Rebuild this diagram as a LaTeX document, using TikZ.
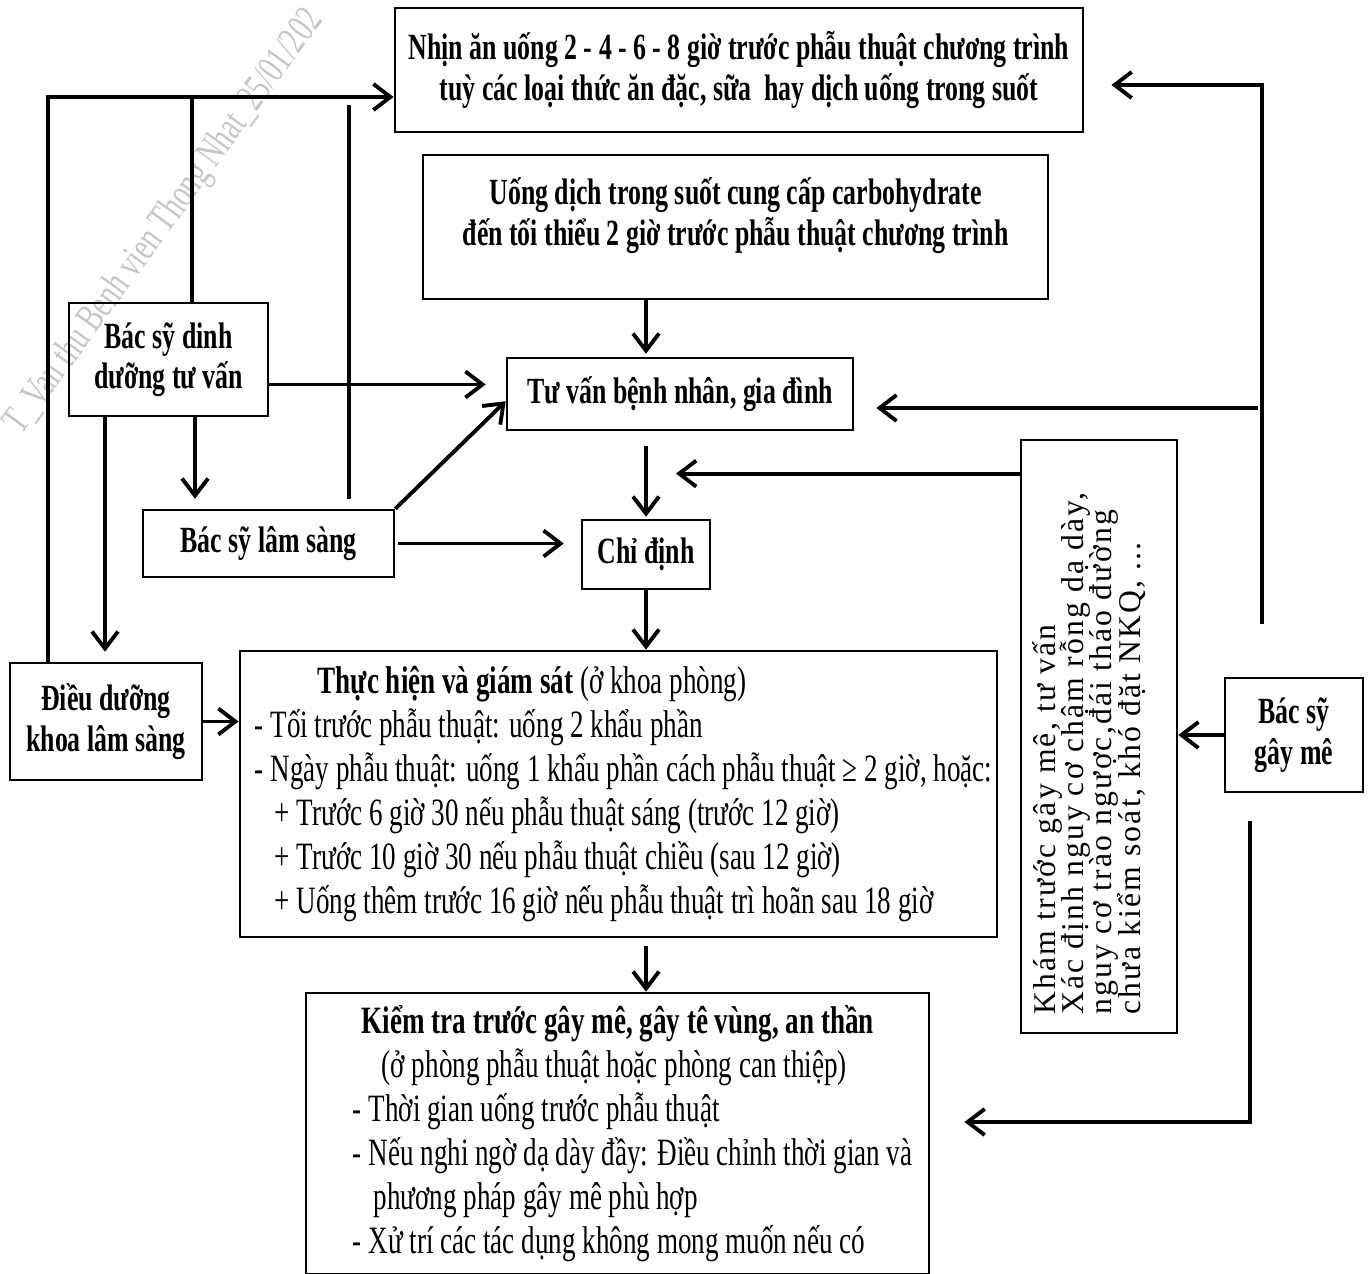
\documentclass[tikz,border=0pt]{standalone}
\usepackage{fontspec}
\setmainfont{Liberation Serif}[FakeStretch=0.70]
\newfontfamily\spacedfont{Liberation Serif}[LetterSpace=7]
\usetikzlibrary{arrows.meta}

\begin{document}
\begin{tikzpicture}[x=0.01cm,y=-0.01cm,>={Straight Barb[length=0.17cm,width=0.26cm]},
  box/.style={draw,line width=0.7pt,inner sep=1pt,align=center,
    font=\bfseries\fontsize{10.5}{11.5}\selectfont,
    execute at begin node={\spaceskip=0pt\xspaceskip=0pt}},
  listbox/.style={draw,line width=0.7pt,inner ysep=1pt,inner xsep=0pt,align=left,
    font=\fontsize{11}{12.5}\selectfont,
    execute at begin node={\spaceskip=0pt\xspaceskip=0pt}},
  flow/.style={->,line width=1.1pt}]
  \useasboundingbox (0,0) rectangle (1371,1274);

  \node[rotate=54,text=gray!45,font=\fontsize{11.5}{11.5}\selectfont] (wm) at (165,222)
    {T\_Van thu Benh vien Thong Nhat\_25/01/202};

  \node[box,minimum width=6.88cm,minimum height=1.24cm] (nhin) at (739,70)
    {Nhịn ăn uống 2 - 4 - 6 - 8 giờ trước phẫu thuật chương trình\\
     tuỳ các loại thức ăn đặc, sữa~ hay dịch uống trong suốt};
  \node[box,minimum width=6.25cm,minimum height=1.44cm] (uong) at (735.5,227)
    {Uống dịch trong suốt cung cấp carbohydrate\\
     đến tối thiểu 2 giờ trước phẫu thuật chương trình\\[-0.1cm]\mbox{}};
  \node[box,minimum width=3.46cm,minimum height=0.72cm] (tuvan) at (680,394)
    {Tư vấn bệnh nhân, gia đình};
  \node[box,minimum width=1.28cm,minimum height=0.69cm] (chidinh) at (646,554.5)
    {Chỉ định};
  \node[box,minimum width=1.99cm,minimum height=1.13cm] (bsdd) at (168.5,359.5)
    {Bác sỹ dinh\\dưỡng tư vấn};
  \node[box,minimum width=2.51cm,minimum height=0.67cm] (bsls) at (268.5,543.5)
    {Bác sỹ lâm sàng};
  \node[box,minimum width=1.92cm,minimum height=1.17cm] (dieuduong) at (106,721.5)
    {Điều dưỡng\\khoa lâm sàng};
  \node[box,minimum width=1.38cm,minimum height=1.14cm] (bsgm) at (1294,735)
    {Bác sỹ\\gây mê};

  \node[listbox,text width=7.57cm,minimum height=2.86cm] (thuchien) at (618.5,794)
    {\hspace*{0.78cm}\textbf{Thực hiện và giám sát} (ở khoa phòng)\\
     \hspace*{0.15cm}- Tối trước phẫu thuật: uống 2 khẩu phần\\
     \hspace*{0.15cm}- Ngày phẫu thuật: uống 1 khẩu phần cách phẫu thuật ≥ 2 giờ, hoặc:\\
     \hspace*{0.35cm}+ Trước 6 giờ 30 nếu phẫu thuật sáng (trước 12 giờ)\\
     \hspace*{0.35cm}+ Trước 10 giờ 30 nếu phẫu thuật chiều (sau 12 giờ)\\
     \hspace*{0.35cm}+ Uống thêm trước 16 giờ nếu phẫu thuật trì hoãn sau 18 giờ};
  \node[listbox,text width=6.23cm,minimum height=2.81cm] (kiemtra) at (617.5,1133.5)
    {\hspace*{0.56cm}\textbf{Kiểm tra trước gây mê, gây tê vùng, an thần}\\
     \hspace*{0.76cm}(ở phòng phẫu thuật hoặc phòng can thiệp)\\
     \hspace*{0.47cm}- Thời gian uống trước phẫu thuật\\
     \hspace*{0.47cm}- Nếu nghi ngờ dạ dày đầy: Điều chỉnh thời gian và\\
     \hspace*{0.68cm}phương pháp gây mê phù hợp\\
     \hspace*{0.47cm}- Xử trí các tác dụng không mong muốn nếu có};

  \node[draw,line width=0.7pt,inner sep=0pt,minimum width=1.56cm,minimum height=5.93cm] (kham) at (1099,736.5)
    {\rotatebox{90}{\vbox{\spacedfont\fontsize{9}{8}\selectfont\lineskiplimit=-20pt
     \hbox{Khám trước gây mê, tư vấn}
     \hbox{Xác định nguy cơ chậm rỗng dạ dày,}
     \hbox{nguy cơ trào ngược,đái tháo đường}
     \hbox{chưa kiểm soát, khó đặt NKQ, ...}\kern0.2cm}\hspace{0.34cm}}};

  \coordinate (tl) at (48,97);
  \coordinate (jdd) at (192,97);
  \coordinate (jls) at (349,97);
  \coordinate (cdd) at (105,0);
  \coordinate (cls) at (195,0);
  \coordinate (tr) at (1262,85);
  \coordinate (br) at (1250,1122);

  \draw[flow] (dieuduong.north -| tl) -- (tl) -- (tl -| nhin.west);
  \draw[line width=1.1pt] (bsdd.north -| jdd) -- (jdd);
  \draw[line width=1.1pt,shorten <=0.1cm,shorten >=0.08cm] (bsls.north -| jls) -- (jls);

  \draw[flow,shorten >=0.2cm] ([yshift=-0.25cm]bsdd.east) -- ([yshift=-0.25cm]bsdd.east -| tuvan.west);
  \draw[flow] (bsls.north east) -- ([yshift=0.3cm]tuvan.south west);
  \draw[flow,shorten >=0.1cm] (bsdd.south -| cls) -- (bsls.north -| cls);
  \draw[flow,shorten >=0.1cm] (bsdd.south -| cdd) -- (dieuduong.north -| cdd);
  \draw[flow,shorten <=0.03cm,shorten >=0.17cm] (bsls.east) -- (bsls.east -| chidinh.west);

  \draw[flow,shorten >=0.03cm] (uong.south -| chidinh) -- (tuvan.north -| chidinh);
  \draw[flow,shorten <=0.15cm,shorten >=0.02cm] (tuvan.south -| chidinh) -- (chidinh.north);
  \draw[flow,shorten >=0.3cm] ([yshift=-0.35cm]kham.north west) -- ([yshift=-0.35cm]kham.north west -| chidinh);
  \draw[flow] (chidinh.south) -- (thuchien.north -| chidinh);
  \draw[flow] (dieuduong.east) -- (dieuduong.east -| thuchien.west);
  \draw[flow,shorten <=0.08cm] (thuchien.south -| chidinh) -- (kiemtra.north -| chidinh);

  \draw[flow,shorten <=0.53cm,shorten >=0.27cm] (bsgm.north -| tr) -- (tr) -- (tr -| nhin.east);
  \draw[flow,shorten <=0.04cm,shorten >=0.22cm] ([yshift=-0.14cm]tuvan.east -| tr) -- ([yshift=-0.14cm]tuvan.east);
  \draw[flow] (bsgm.west) -- (bsgm.west -| kham.east);
  \draw[flow,shorten <=0.28cm,shorten >=0.34cm] (bsgm.south -| br) -- (br) -- (br -| kiemtra.east);
\end{tikzpicture}
\end{document}
